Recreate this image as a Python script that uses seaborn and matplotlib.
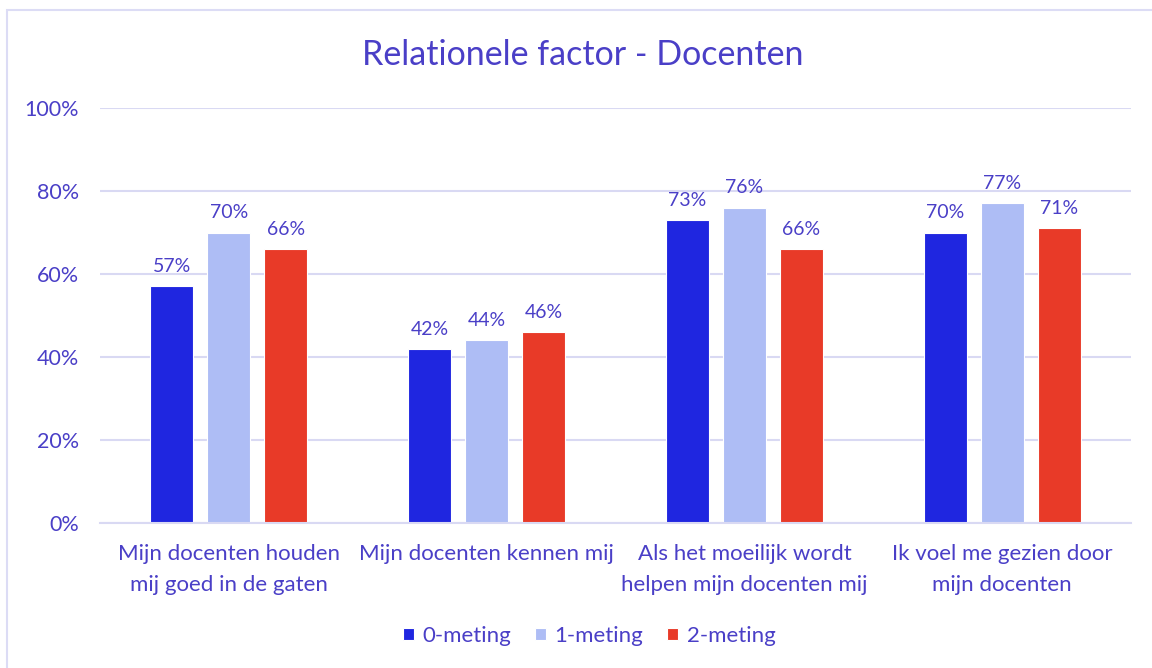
import matplotlib
matplotlib.use("Agg")
import matplotlib.pyplot as plt
import seaborn as sns
import pandas as pd
from matplotlib.patches import Rectangle

categories = [
    "Mijn docenten houden\nmij goed in de gaten",
    "Mijn docenten kennen mij",
    "Als het moeilijk wordt\nhelpen mijn docenten mij",
    "Ik voel me gezien door\nmijn docenten",
]
series = ["0-meting", "1-meting", "2-meting"]
meting0 = [57, 42, 73, 70]
meting1 = [70, 44, 76, 77]
meting2 = [66, 46, 66, 71]
yticks = [0, 20, 40, 60, 80, 100]

colors = ["#1f26e0", "#aebdf5", "#e83a28"]
text_color = "#4a3fc7"
grid_color = "#d9d9f3"

rows = []
for s, vals in zip(series, [meting0, meting1, meting2]):
    for c, v in zip(categories, vals):
        rows.append({"categorie": c, "meting": s, "waarde": v})
df = pd.DataFrame(rows)

sns.set_theme(style="white")
plt.rcParams["font.family"] = ["Lato", "DejaVu Sans"]

fig = plt.figure(figsize=(11.52, 6.68), dpi=100)
ax = fig.add_axes([100 / 1152, 1 - 523 / 668, 1031 / 1152, 415 / 668])

sns.barplot(data=df, x="categorie", y="waarde", hue="meting", order=categories,
            hue_order=series, palette=colors, width=0.663, gap=0.245,
            edgecolor="white", linewidth=0.8, saturation=1, ax=ax, legend=True)

for cont in ax.containers:
    ax.bar_label(cont, labels=[f"{v:.0f}%" for v in cont.datavalues],
                 padding=8, fontsize=14, color=text_color)

ax.set_ylim(0, 100)
ax.set_xlim(-0.5, 3.5)
ax.set_yticks(yticks)
ax.set_yticklabels([f"{t}%" for t in yticks])
ax.yaxis.grid(True, color=grid_color, linewidth=1.5)
ax.set_axisbelow(True)
for sp in ["top", "right", "left"]:
    ax.spines[sp].set_visible(False)
ax.spines["bottom"].set_color(grid_color)
ax.spines["bottom"].set_linewidth(1.5)
ax.tick_params(axis="y", length=0, pad=15, labelsize=15.5, labelcolor=text_color)
ax.tick_params(axis="x", length=0, pad=15, labelsize=16, labelcolor=text_color)
for lbl in ax.get_xticklabels():
    lbl.set_linespacing(1.7)
ax.set_xlabel("")
ax.set_ylabel("")

leg = ax.legend(loc="center", bbox_to_anchor=(589 / 1152, 1 - 636 / 668), ncol=3,
                frameon=False, fontsize=16, handlelength=0.5, handleheight=0.5,
                handletextpad=0.4, columnspacing=1.05, labelcolor=text_color,
                bbox_transform=fig.transFigure)

fig.text(583 / 1152, 1 - 55 / 668, "Relationele factor - Docenten", ha="center",
         va="center", fontsize=24.5, color=text_color)

fig.patches.append(Rectangle((7 / 1152, -0.1), 1.2, 1 - 10 / 668 + 0.1,
                             transform=fig.transFigure, fill=False,
                             edgecolor="#dcdcf5", linewidth=1.5))

fig.savefig("out.png", dpi=100, facecolor="white")
